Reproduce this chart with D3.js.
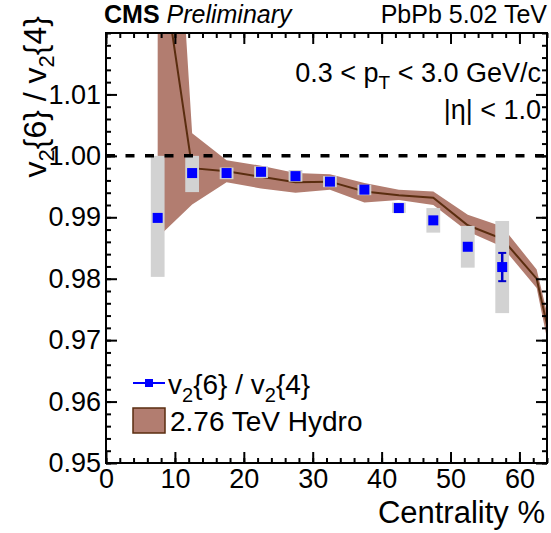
<!DOCTYPE html>
<html><head><meta charset="utf-8">
<script src="https://cdn.jsdelivr.net/npm/d3@7"></script>
<style>body{margin:0;background:#fff}svg{display:block}text{font-family:"Liberation Sans",Arial,sans-serif}</style>
</head><body>
<script>
// ---- data ----
const centrality = [7.5,12.5,17.5,22.5,27.5,32.5,37.5,42.5,47.5,52.5,57.5];
const ratio      = [0.9899,0.9972,0.9972,0.9974,0.9967,0.9958,0.9945,0.9915,0.9895,0.9852,0.9819];
const statErr    = [0.0005,0.0002,0.0001,0.0001,0.0001,0.0001,0.0001,0.0002,0.0003,0.0004,0.0023];
const sysLow     = [0.9803,0.9941,0.9962,0.9964,0.9958,0.9949,0.9936,0.9907,0.9875,0.9818,0.9744];
const sysHigh    = [1.0000,1.0000,0.9981,0.9983,0.9977,0.9967,0.9953,0.9924,0.9915,0.9886,0.9894];
const hydroCent  = [7.5,12.5,17.5,22.5,27.5,32.5,37.5,42.5,47.5,52.5,57.5,62.5,67.5];
const hydroMid   = [1.036,0.9980,0.9975,0.9966,0.9957,0.9958,0.9942,0.9936,0.9932,0.9887,0.9865,0.9800,0.9550];
const hydroHigh  = [1.094,1.0037,0.9993,0.9984,0.9972,0.9970,0.9956,0.9945,0.9942,0.9904,0.9885,0.9815,0.9580];
const hydroLow   = [0.9867,0.9921,0.9957,0.9947,0.9940,0.9945,0.9924,0.9928,0.9920,0.9877,0.9852,0.9785,0.9510];
const xTicks = [0,10,20,30,40,50,60];
const yTicks = [0.95,0.96,0.97,0.98,0.99,1.00,1.01];

const W=551,H=533, L=106,R=547,T=33,B=463;
const svg=d3.select("body").append("svg").attr("width",W).attr("height",H);
const x=d3.scaleLinear().domain([0,64]).range([L,R]);
const y=d3.scaleLinear().domain([0.95,1.02]).range([B,T]);

svg.append("clipPath").attr("id","clip").append("rect").attr("x",L).attr("y",T).attr("width",R-L).attr("height",B-T);
const plot=svg.append("g").attr("clip-path","url(#clip)");

const band = hydroCent.map((c,i)=>({c,lo:hydroLow[i],hi:hydroHigh[i],m:hydroMid[i]}));
const bandColor="#b27d70", lineColor="#5a2d0f";
plot.append("path").datum(band).attr("fill",bandColor)
  .attr("d",d3.area().x(d=>x(d.c)).y0(d=>y(d.lo)).y1(d=>y(d.hi)));
plot.append("path").datum(band).attr("fill","none").attr("stroke",lineColor).attr("stroke-width",2)
  .attr("d",d3.line().x(d=>x(d.c)).y(d=>y(d.m)));

const pts = centrality.map((c,i)=>({c,v:ratio[i],e:statErr[i],lo:sysLow[i],hi:sysHigh[i]}));
plot.selectAll("rect.sys").data(pts).enter().append("rect").attr("class","sys")
  .attr("x",d=>x(d.c-1)).attr("width",d=>x(d.c+1)-x(d.c-1))
  .attr("y",d=>y(d.hi)).attr("height",d=>y(d.lo)-y(d.hi)).attr("fill","#d2d2d2");

plot.append("line").attr("x1",L).attr("x2",R).attr("y1",y(1)).attr("y2",y(1))
  .attr("stroke","#000").attr("stroke-width",3.5).attr("stroke-dasharray","9,10.5");

const eb=plot.selectAll("g.eb").data(pts).enter().append("g").attr("class","eb");
eb.append("line").attr("x1",d=>x(d.c)).attr("x2",d=>x(d.c)).attr("y1",d=>y(d.v+d.e)).attr("y2",d=>y(d.v-d.e))
  .attr("stroke","#0000cc").attr("stroke-width",2.5);
eb.filter(d=>y(d.v-d.e)-y(d.v+d.e)>12).each(function(d){
  const g=d3.select(this);
  [d.v+d.e,d.v-d.e].forEach(v=>g.append("line").attr("x1",x(d.c)-4).attr("x2",x(d.c)+4).attr("y1",y(v)).attr("y2",y(v)).attr("stroke","#0000cc").attr("stroke-width",2));
});
plot.selectAll("rect.mk").data(pts).enter().append("rect").attr("class","mk")
  .attr("x",d=>x(d.c)-5).attr("y",d=>y(d.v)-5).attr("width",10).attr("height",10).attr("fill","#0000ff");

// axes
function addAxis(axis,tr,major,minor,labels){
  const g=svg.append("g").attr("transform",tr);
  g.call(axis.tickValues(minor).tickSize(-5).tickFormat(""));
  g.selectAll("path.domain").remove();
  const g2=svg.append("g").attr("transform",tr);
  g2.call(labels);
  g2.selectAll("path.domain").remove();
  return g2;
}
const xMinor=d3.range(0,64.01,2), yMinor=d3.range(0,36).map(i=>+(0.95+i*0.002).toFixed(3)).filter(v=>v<=1.02);
const fmt=d3.format(".2f");
const gx=addAxis(d3.axisBottom(x),`translate(0,${B})`,xTicks,xMinor,d3.axisBottom(x).tickValues(xTicks).tickSize(-11).tickPadding(6).tickFormat(d3.format("d")));
addAxis(d3.axisTop(x),`translate(0,${T})`,xTicks,xMinor,d3.axisTop(x).tickValues(xTicks).tickSize(-11).tickFormat(""));
const gy=addAxis(d3.axisLeft(y),`translate(${L},0)`,yTicks,yMinor,d3.axisLeft(y).tickValues(yTicks).tickSize(-11).tickPadding(5).tickFormat(fmt));
addAxis(d3.axisRight(y),`translate(${R},0)`,yTicks,yMinor,d3.axisRight(y).tickValues(yTicks).tickSize(-11).tickFormat(""));
svg.selectAll(".tick line").attr("stroke","#000").attr("stroke-width",2);
gx.selectAll("text").attr("font-size",27).attr("fill","#000").attr("font-family","Liberation Sans, Arial, sans-serif");
gy.selectAll("text").attr("font-size",27).attr("fill","#000").attr("font-family","Liberation Sans, Arial, sans-serif");
svg.append("rect").attr("x",L).attr("y",T).attr("width",R-L).attr("height",B-T).attr("fill","none").attr("stroke","#000").attr("stroke-width",2);

// titles
svg.append("text").attr("x",545).attr("y",523).attr("text-anchor","end").attr("font-size",31).text("Centrality %");
const yt=svg.append("text").attr("transform","translate(46,16) rotate(-90)").attr("text-anchor","end").attr("font-size",32);
yt.append("tspan").text("v");yt.append("tspan").attr("font-size",22).attr("dy",8).text("2");
yt.append("tspan").attr("dy",-8).text("{6} / v");yt.append("tspan").attr("font-size",22).attr("dy",8).text("2");
yt.append("tspan").attr("dy",-8).text("{4}");

const hd=svg.append("text").attr("x",104).attr("y",23).attr("font-size",25);
hd.append("tspan").attr("font-weight","bold").text("CMS");
hd.append("tspan").attr("font-style","italic").text(" Preliminary");
svg.append("text").attr("x",547).attr("y",23).attr("text-anchor","end").attr("font-size",25).text("PbPb 5.02 TeV");

const pt=svg.append("text").attr("x",541).attr("y",82).attr("text-anchor","end").attr("font-size",27);
pt.append("tspan").text("0.3 < p");pt.append("tspan").attr("font-size",19).attr("dy",7).text("T");
pt.append("tspan").attr("dy",-7).text(" < 3.0 GeV/c");
svg.append("text").attr("x",541).attr("y",119).attr("text-anchor","end").attr("font-size",27).text("|\u03b7| < 1.0");

// legend
const lg=svg.append("g");
lg.append("line").attr("x1",133).attr("x2",165).attr("y1",383).attr("y2",383).attr("stroke","#0000ff").attr("stroke-width",2);
lg.append("rect").attr("x",145).attr("y",379).attr("width",8).attr("height",8).attr("fill","#0000ff");
const l1=lg.append("text").attr("x",168).attr("y",394).attr("font-size",28);
l1.append("tspan").text("v");l1.append("tspan").attr("font-size",20).attr("dy",8).text("2");
l1.append("tspan").attr("dy",-8).text("{6} / v");l1.append("tspan").attr("font-size",20).attr("dy",8).text("2");
l1.append("tspan").attr("dy",-8).text("{4}");
lg.append("rect").attr("x",133).attr("y",408).attr("width",32).attr("height",25).attr("fill",bandColor).attr("stroke",lineColor).attr("stroke-width",1.5);
lg.append("text").attr("x",170).attr("y",431).attr("font-size",28).text("2.76 TeV Hydro");
</script>
</body></html>
